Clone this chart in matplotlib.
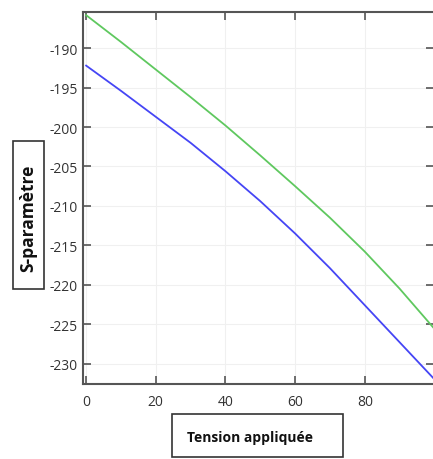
import numpy as np
import matplotlib
matplotlib.use('Agg')
import matplotlib.pyplot as plt

plt.rcParams['font.family'] = ['Liberation Sans Narrow', 'Open Sans', 'DejaVu Sans']

# tension appliquée
tension = [0, 10, 20, 30, 40, 50, 60, 70, 80, 90, 100]
# S-paramètre, upper (green) curve
s_green = [-185.8, -189.2, -192.7, -196.2, -199.8, -203.6, -207.5, -211.5, -215.8, -220.5, -225.6]
# S-paramètre, lower (blue) curve
s_blue = [-192.2, -195.4, -198.7, -202.0, -205.6, -209.4, -213.5, -217.9, -222.6, -227.3, -232.0]

x_ticks = [0, 20, 40, 60, 80]
y_ticks = [-190, -195, -200, -205, -210, -215, -220, -225, -230]

fig = plt.figure(figsize=(4.33, 4.6), dpi=100)
ax = fig.add_axes([0.1917, 0.163, 0.81, 0.8087])

ax.plot(tension, s_green, color='#5fc85f', linewidth=1.3)
ax.plot(tension, s_blue, color='#4545f5', linewidth=1.3)

ax.set_xlim(-0.9, 99.8)
ax.set_ylim(-232.6, -185.4)
ax.set_xticks(x_ticks)
ax.set_yticks(y_ticks)
ax.set_yticklabels([str(v) for v in y_ticks])

ax.grid(True, color='#f0f0f0', linewidth=0.8)
ax.tick_params(direction='in', length=6, width=1.2, color='#555555',
               labelsize=10, labelcolor='#333333', top=True, right=True)
ax.tick_params(axis='y', pad=4)
ax.tick_params(axis='x', pad=7)
for sp in ['left', 'bottom', 'top']:
    ax.spines[sp].set_color('#555555')
    ax.spines[sp].set_linewidth(1.5)
ax.spines['right'].set_visible(False)

# y label box
fig.patches.append(plt.Rectangle((13 / 433, 1 - 290 / 460), 31 / 433, 148 / 460,
                                 transform=fig.transFigure, facecolor='white',
                                 edgecolor='#333333', linewidth=1.2))
fig.text(28.5 / 433, 1 - 218 / 460, 'S-paramètre', rotation=90, ha='center', va='center',
         fontsize=12.5, fontweight='bold', color='#111111')

# x label box
fig.patches.append(plt.Rectangle((172 / 433, 1 - 458 / 460), 171 / 433, 43 / 460,
                                 transform=fig.transFigure, facecolor='white',
                                 edgecolor='#333333', linewidth=1.2))
fig.text(250 / 433, 1 - 438 / 460, 'Tension appliquée', ha='center', va='center',
         fontsize=10, fontweight='bold', color='#111111')

fig.savefig('out.png', dpi=100)
